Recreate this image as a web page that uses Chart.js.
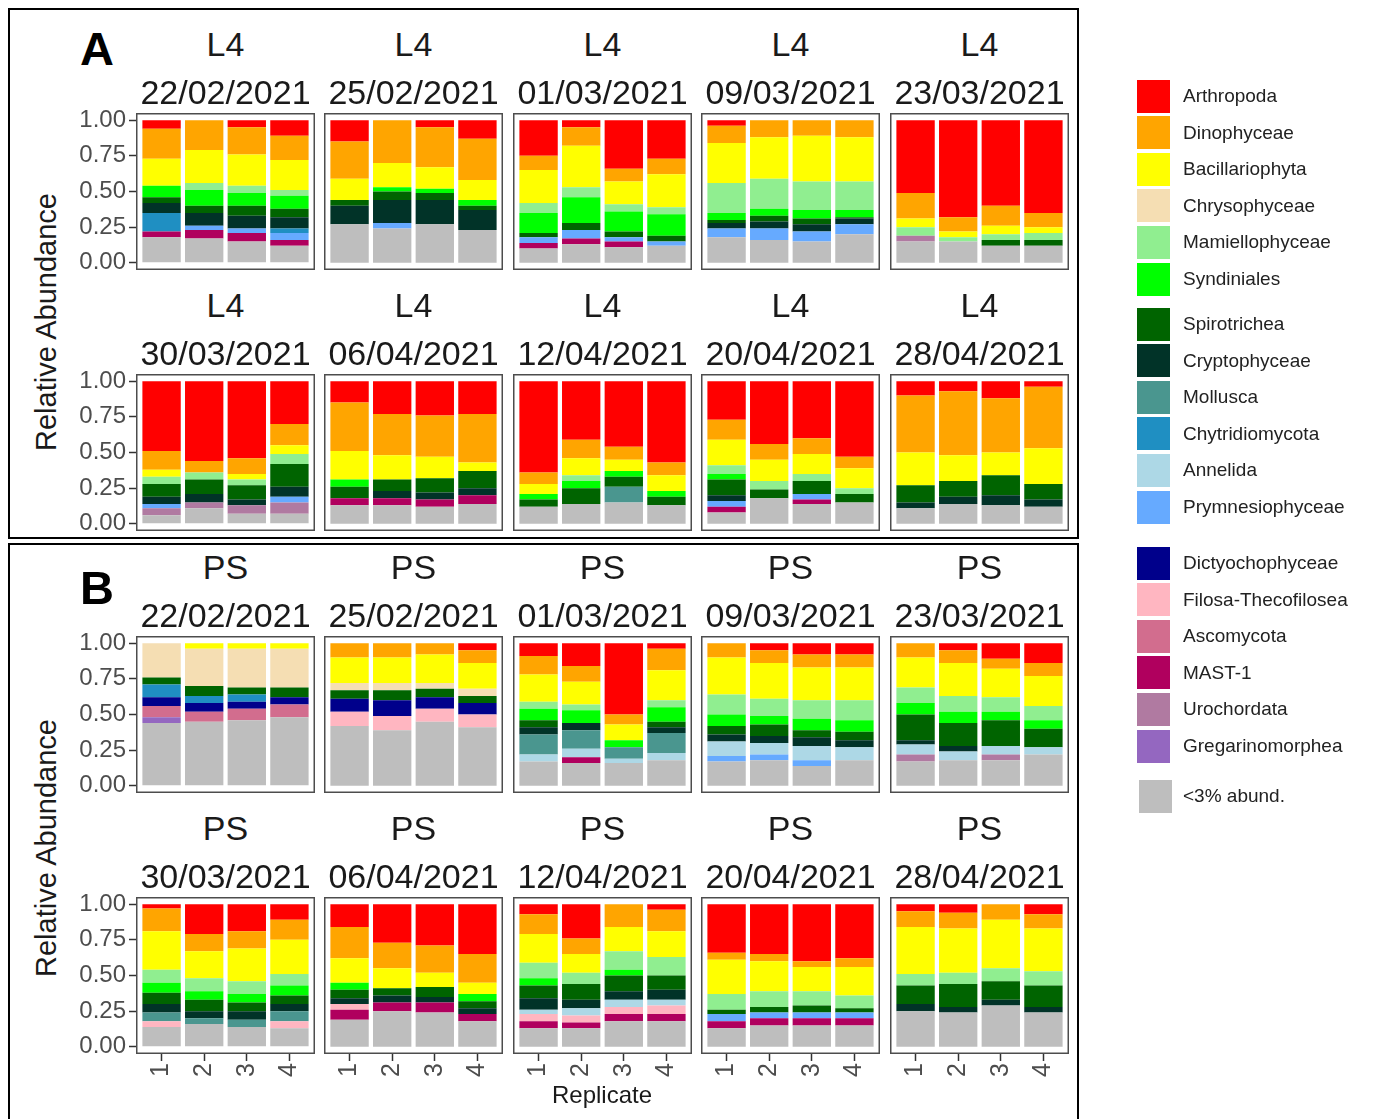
<!DOCTYPE html>
<html><head><meta charset="utf-8">
<script src="https://cdn.jsdelivr.net/npm/chart.js@4.4.0/dist/chart.umd.min.js"></script>
<style>
body{margin:0;background:#fff;width:1374px;height:1119px;overflow:hidden;position:relative;font-family:"Liberation Sans",Arial,sans-serif;}
.frame{position:absolute;border:2px solid #000;box-sizing:border-box;}
.strip{position:absolute;width:220px;text-align:center;font-size:34px;line-height:34px;color:#1a1a1a;white-space:nowrap;}
.plab{position:absolute;font-weight:bold;font-size:47px;line-height:47px;color:#000;}
.ytitle{position:absolute;font-size:29px;line-height:29px;color:#1a1a1a;white-space:nowrap;transform:translate(-50%,-50%) rotate(-90deg);}
.xtitle{position:absolute;font-size:24px;line-height:24px;color:#1a1a1a;white-space:nowrap;transform:translate(-50%,-50%);}
.lsq{position:absolute;width:33px;height:33px;}
.ltx{position:absolute;font-size:19px;line-height:20px;color:#222;white-space:nowrap;}
canvas{position:absolute;}
</style></head>
<body>
<div class="frame" style="left:8px;top:8px;width:1071px;height:531px;"></div>
<div class="frame" style="left:8px;top:543px;width:1071px;height:620px;"></div>
<script>
// ---------- DATA ----------
const stations = ['L4', 'PS'];
const dates = ['22/02/2021','25/02/2021','01/03/2021','09/03/2021','23/03/2021','30/03/2021','06/04/2021','12/04/2021','20/04/2021','28/04/2021'];
const replicates = ['1','2','3','4'];
const tickValues = [0, 25, 50, 75, 100];
const tickLabels = ['0.00','0.25','0.50','0.75','1.00'];
// stack order bottom -> top
const categories = ['<3% abund.','Gregarinomorphea','Urochordata','MAST-1','Ascomycota','Filosa-Thecofilosea','Dictyochophyceae','Prymnesiophyceae','Annelida','Chytridiomycota','Mollusca','Cryptophyceae','Spirotrichea','Syndiniales','Mamiellophyceae','Chrysophyceae','Bacillariophyta','Dinophyceae','Arthropoda'];
const colors = ['#BEBEBE','#9467C0','#B07AA1','#B0005E','#D26D8E','#FFB6C1','#00008B','#66AAFF','#ADD8E6','#1F8FC2','#4A968F','#013328','#006400','#00FF00','#90EE90','#F5DEB3','#FFFF00','#FFA500','#FF0000'];

// values in % ; 10 dates x 4 replicates
const L4_Arthropoda = [6,0,5,11, 15,0,5,13, 25,5,34,27, 4,0,0,0, 51,68,60,65, 49,56,54,30, 15,23,24,23, 64,41,46,57, 27,44,40,53, 10,7,12,4];
const L4_Dinophyceae = [21,21,19,17, 26,30,28,29, 10,13,9,11, 12,12,11,12, 18,10,14,10, 13,8,11,15, 34,29,29,34, 8,13,9,9, 14,11,11,8, 40,45,38,43];
const L4_Bacillariophyta = [19,23,22,21, 15,17,15,14, 23,29,16,23, 28,29,32,31, 6,4,6,4, 5,0,4,6, 20,17,15,6, 7,12,8,11, 18,15,14,14, 23,18,16,25];
const L4_Chrysophyceae = [0,0,0,0, 0,0,0,0, 0,0,0,0, 0,0,0,0, 0,0,0,0, 0,0,0,0, 0,0,0,0, 0,0,0,0, 0,0,0,0, 0,0,0,0];
const L4_Mamiellophyceae = [0,5,5,4, 0,0,0,0, 7,7,5,5, 21,21,20,20, 6,3,4,5, 5,5,4,7, 0,0,0,0, 0,4,0,0, 6,6,5,4, 0,0,0,0];
const L4_Syndiniales = [8,11,9,9, 0,3,3,4, 14,18,14,15, 5,5,6,5, 0,0,0,0, 0,0,0,0, 5,0,0,0, 4,5,4,4, 4,0,0,0, 0,0,0,0];
const L4_Spirotrichea = [4,5,7,6, 4,6,5,3, 3,5,4,4, 2,4,4,1, 0,0,4,4, 9,10,10,16, 8,8,10,12, 5,11,7,6, 11,6,9,6, 12,11,14,11];
const L4_Cryptophyceae = [7,9,9,8, 13,16,17,14, 0,0,0,0, 4,5,5,4, 0,0,0,0, 5,6,4,7, 0,5,5,5, 0,0,0,0, 4,0,0,0, 4,5,7,5];
const L4_Mollusca = [0,0,0,0, 0,0,0,0, 0,0,0,0, 0,0,0,0, 0,0,0,0, 0,0,0,0, 0,0,0,0, 0,0,11,0, 0,0,0,0, 0,0,0,0];
const L4_Chytridiomycota = [13,0,0,3, 0,0,0,0, 0,0,0,0, 0,0,0,0, 0,0,0,0, 0,0,0,0, 0,0,0,0, 0,0,0,0, 0,0,0,0, 0,0,0,0];
const L4_Annelida = [0,0,0,0, 0,0,0,0, 0,0,0,0, 0,0,0,0, 0,0,0,0, 0,0,0,0, 0,0,0,0, 0,0,0,0, 0,0,0,0, 0,0,0,0];
const L4_Prymnesiophyceae = [0,3,3,5, 0,4,0,0, 4,6,3,3, 6,8,7,7, 0,0,0,0, 3,0,0,4, 0,0,0,0, 0,0,0,0, 4,0,4,0, 0,0,0,0];
const L4_Dictyochophyceae = [0,0,0,0, 0,0,0,0, 0,0,0,0, 0,0,0,0, 0,0,0,0, 0,0,0,0, 0,0,0,0, 0,0,0,0, 0,0,0,0, 0,0,0,0];
const L4_Filosa = [0,0,0,0, 0,0,0,0, 0,0,0,0, 0,0,0,0, 0,0,0,0, 0,0,0,0, 0,0,0,0, 0,0,0,0, 0,0,0,0, 0,0,0,0];
const L4_Ascomycota = [0,0,0,0, 0,0,0,0, 0,0,0,0, 0,0,0,0, 0,0,0,0, 0,0,0,0, 0,0,0,0, 0,0,0,0, 0,0,0,0, 0,0,0,0];
const L4_MAST1 = [4,6,6,4, 0,0,0,0, 4,4,4,0, 0,0,0,0, 0,0,0,0, 0,0,0,0, 5,5,5,6, 0,0,0,0, 4,0,3,0, 0,0,0,0];
const L4_Urochordata = [0,0,0,0, 0,0,0,0, 0,0,0,0, 0,0,0,0, 4,0,0,0, 5,4,6,8, 0,0,0,0, 0,0,0,0, 0,0,0,0, 0,0,0,0];
const L4_Gregarinomorphea = [0,0,0,0, 0,0,0,0, 0,0,0,0, 0,0,0,0, 0,0,0,0, 0,0,0,0, 0,0,0,0, 0,0,0,0, 0,0,0,0, 0,0,0,0];
const L4_Other = [18,17,15,12, 27,24,27,23, 10,13,11,12, 18,16,15,20, 15,15,12,12, 6,11,7,7, 13,13,12,14, 12,14,15,13, 8,18,14,15, 11,14,13,12];

const PS_Arthropoda = [0,0,0,0, 0,0,0,5, 9,16,50,4, 0,5,8,8, 0,5,11,14, 3,21,19,11, 16,27,29,35, 7,24,0,4, 34,35,40,38, 5,6,0,7];
const PS_Dinophyceae = [0,0,0,0, 10,10,8,9, 13,11,7,15, 10,9,9,9, 10,9,7,9, 16,12,12,14, 22,18,19,20, 14,11,16,15, 5,5,4,6, 11,11,11,10];
const PS_Bacillariophyta = [0,4,4,4, 18,18,20,18, 19,16,11,21, 26,25,23,23, 21,23,20,21, 27,19,23,24, 17,14,10,8, 20,13,17,18, 24,21,17,20, 33,31,34,30];
const PS_Chrysophyceae = [24,26,27,27, 5,5,4,5, 0,0,0,0, 0,0,0,0, 0,0,0,0, 0,0,0,0, 0,0,0,0, 0,0,0,0, 0,0,0,0, 0,0,0,0];
const PS_Mamiellophyceae = [0,0,0,0, 0,0,0,0, 5,4,0,5, 14,12,13,14, 11,11,10,10, 9,9,9,8, 0,0,0,0, 11,8,13,13, 11,11,10,9, 8,8,9,10];
const PS_Syndiniales = [0,0,0,0, 0,0,0,0, 8,9,5,10, 8,6,8,8, 8,8,6,6, 7,6,6,7, 5,0,0,5, 5,0,4,0, 0,0,0,0, 0,0,0,0];
const PS_Spirotrichea = [5,7,5,7, 6,7,6,5, 5,0,0,4, 6,8,5,6, 18,16,18,13, 8,8,6,6, 6,5,7,5, 9,11,11,10, 3,4,5,3, 13,16,13,15];
const PS_Cryptophyceae = [0,0,0,0, 0,0,0,0, 5,5,0,4, 5,5,6,5, 3,4,0,0, 6,5,6,5, 4,5,4,4, 8,6,6,7, 0,0,0,0, 5,4,4,4];
const PS_Mollusca = [0,0,0,0, 0,0,0,0, 14,13,8,14, 0,0,0,0, 0,0,0,0, 6,4,5,7, 0,0,0,0, 0,0,0,0, 0,0,0,0, 0,0,0,0];
const PS_Chytridiomycota = [9,5,5,0, 0,0,0,0, 0,0,0,0, 0,0,0,0, 0,0,0,0, 0,0,0,0, 0,0,0,0, 0,0,0,0, 0,0,0,0, 0,0,0,0];
const PS_Annelida = [0,0,0,0, 0,0,0,0, 5,6,3,5, 10,8,10,9, 7,6,6,5, 0,0,0,0, 0,0,0,0, 3,5,5,4, 0,0,0,0, 0,0,0,0];
const PS_Prymnesiophyceae = [0,0,0,0, 0,0,0,0, 0,0,0,0, 4,4,4,0, 0,0,0,0, 0,0,0,0, 0,0,0,0, 0,0,0,0, 5,4,4,4, 0,0,0,0];
const PS_Dictyochophyceae = [6,6,5,5, 9,11,8,8, 0,0,0,0, 0,0,0,0, 0,0,0,0, 0,0,0,0, 0,0,0,0, 0,0,0,0, 0,0,0,0, 0,0,0,0];
const PS_Filosa = [0,0,0,0, 10,10,9,9, 0,0,0,0, 0,0,0,0, 0,0,0,0, 4,0,0,5, 4,0,0,0, 5,5,5,6, 0,0,0,0, 0,0,0,0];
const PS_Ascomycota = [8,7,8,9, 0,0,0,0, 0,0,0,0, 0,0,0,0, 0,0,0,0, 0,0,0,0, 0,0,0,0, 0,0,0,0, 0,0,0,0, 0,0,0,0];
const PS_MAST1 = [0,0,0,0, 0,0,0,0, 0,4,0,0, 0,0,0,0, 0,0,0,0, 0,0,0,0, 7,6,7,5, 5,4,5,5, 5,5,5,5, 0,0,0,0];
const PS_Urochordata = [0,0,0,0, 0,0,0,0, 0,0,0,0, 0,0,0,0, 5,0,4,0, 0,0,0,0, 0,0,0,0, 0,0,0,0, 0,0,0,0, 0,0,0,0];
const PS_Gregarinomorphea = [4,0,0,0, 0,0,0,0, 0,0,0,0, 0,0,0,0, 0,0,0,0, 0,0,0,0, 0,0,0,0, 0,0,0,0, 0,0,0,0, 0,0,0,0];
const PS_Other = [44,45,46,48, 42,39,45,41, 17,16,16,18, 17,18,14,18, 17,18,18,22, 14,16,14,13, 19,25,24,18, 13,13,18,18, 13,15,15,15, 25,24,29,24];

const L4_series = [L4_Other, L4_Gregarinomorphea, L4_Urochordata, L4_MAST1, L4_Ascomycota, L4_Filosa, L4_Dictyochophyceae, L4_Prymnesiophyceae, L4_Annelida, L4_Chytridiomycota, L4_Mollusca, L4_Cryptophyceae, L4_Spirotrichea, L4_Syndiniales, L4_Mamiellophyceae, L4_Chrysophyceae, L4_Bacillariophyta, L4_Dinophyceae, L4_Arthropoda];
const PS_series = [PS_Other, PS_Gregarinomorphea, PS_Urochordata, PS_MAST1, PS_Ascomycota, PS_Filosa, PS_Dictyochophyceae, PS_Prymnesiophyceae, PS_Annelida, PS_Chytridiomycota, PS_Mollusca, PS_Cryptophyceae, PS_Spirotrichea, PS_Syndiniales, PS_Mamiellophyceae, PS_Chrysophyceae, PS_Bacillariophyta, PS_Dinophyceae, PS_Arthropoda];
const seriesByStation = [L4_series, PS_series];

// ---------- LAYOUT ----------
const PANEL_W = 179, PANEL_H = 157;
const colLeft = [136, 324, 513, 701, 890];
const rowTop = [113, 374, 636, 897];
const YAXW = 62, PADT = 14, PADB = 14, XAXH = 36;

Chart.defaults.font.family = '"Liberation Sans", Arial, sans-serif';

const framePlugin = {
  id: 'frame',
  afterDatasetsDraw(chart) {
    const {ctx, chartArea: a} = chart;
    ctx.save();
    ctx.strokeStyle = '#4d4d4d';
    ctx.lineWidth = 1.5;
    ctx.strokeRect(a.left + 0.75, a.top + 0.75, a.right - a.left - 1.5, a.bottom - a.top - 1.5);
    ctx.restore();
  }
};

function addDiv(cls, text, style) {
  const d = document.createElement('div');
  d.className = cls;
  d.textContent = text;
  Object.assign(d.style, style);
  document.body.appendChild(d);
  return d;
}

for (let s = 0; s < 2; s++) {
  for (let d = 0; d < dates.length; d++) {
    const r = s * 2 + Math.floor(d / 5), c = d % 5;
    const showY = c === 0, showX = r === 3;
    const cv = document.createElement('canvas');
    const w = PANEL_W + (showY ? YAXW : 0);
    const h = PADT + PANEL_H + (showX ? XAXH : PADB);
    cv.width = w; cv.height = h;
    cv.style.left = (colLeft[c] - (showY ? YAXW : 0)) + 'px';
    cv.style.top = (rowTop[r] - PADT) + 'px';
    cv.style.width = w + 'px'; cv.style.height = h + 'px';
    document.body.appendChild(cv);

    const datasets = categories.map((name, k) => ({
      label: name,
      backgroundColor: colors[k],
      borderWidth: 0,
      barPercentage: 0.9,
      categoryPercentage: 1.0,
      data: replicates.map((rep, i) => ({x: i + 1, y: seriesByStation[s][k][d * 4 + i]}))
    }));

    new Chart(cv, {
      type: 'bar',
      data: {datasets},
      plugins: [framePlugin],
      options: {
        responsive: false,
        animation: false,
        devicePixelRatio: 1,
        layout: {padding: {top: PADT, bottom: showX ? 0 : PADB, left: 0, right: 0}},
        plugins: {legend: {display: false}, tooltip: {enabled: false}, title: {display: false}},
        scales: {
          x: {
            type: 'linear', min: 0.4, max: 4.6, stacked: true, display: showX, offset: false,
            afterBuildTicks: (sc) => { sc.ticks = replicates.map((rp, i) => ({value: i + 1})); },
            afterFit: (sc) => { sc.height = showX ? XAXH : 0; sc.paddingLeft = 0; sc.paddingRight = 0; },
            ticks: {autoSkip: false, minRotation: 90, maxRotation: 90, padding: 2, color: '#4d4d4d',
              font: {size: 25}, callback: (v) => replicates[Math.round(v) - 1]},
            grid: {display: true, offset: false, drawOnChartArea: false, drawTicks: true, tickLength: 7, tickWidth: 1.5, tickColor: '#333'},
            border: {display: false}
          },
          y: {
            type: 'linear', min: -5, max: 105, stacked: true, display: showY,
            afterBuildTicks: (sc) => { sc.ticks = tickValues.map(v => ({value: v})); },
            afterFit: (sc) => { sc.width = showY ? YAXW : 0; sc.paddingTop = 0; sc.paddingBottom = 0; },
            ticks: {padding: 3, color: '#4d4d4d', font: {size: 24},
              callback: (v) => tickLabels[tickValues.indexOf(v)]},
            grid: {display: true, drawOnChartArea: false, drawTicks: true, tickLength: 7, tickWidth: 1.5, tickColor: '#333'},
            border: {display: false}
          }
        }
      }
    });

    const cx = colLeft[c] + PANEL_W / 2;
    addDiv('strip', stations[s], {left: (cx - 110) + 'px', top: (rowTop[r] - 69 - 17) + 'px'});
    addDiv('strip', dates[d], {left: (cx - 110) + 'px', top: (rowTop[r] - 21.5 - 17) + 'px'});
  }
}

// panel letters and axis titles
addDiv('plab', 'A', {left: '80px', top: '25px'});
addDiv('plab', 'B', {left: '80px', top: '564px'});
addDiv('ytitle', 'Relative Abundance', {left: '46px', top: '322px'});
addDiv('ytitle', 'Relative Abundance', {left: '46px', top: '848px'});
addDiv('xtitle', 'Replicate', {left: '602px', top: '1095px'});

// legend (top -> bottom)
const legendOrder = categories.slice(1).reverse().concat([categories[0]]);
const groupStarts = [96, 324, 563];
const STEP = 36.6;
legendOrder.forEach((name, i) => {
  let cy;
  if (i < 18) cy = groupStarts[Math.floor(i / 6)] + (i % 6) * STEP;
  else cy = 796;
  const k = categories.indexOf(name);
  const sq = document.createElement('div');
  sq.className = 'lsq';
  sq.style.left = (i < 18 ? 1137 : 1139) + 'px';
  sq.style.top = (cy - 16.5) + 'px';
  sq.style.background = colors[k];
  document.body.appendChild(sq);
  addDiv('ltx', name, {left: '1183px', top: (cy - 10) + 'px'});
});
</script>
</body></html>
